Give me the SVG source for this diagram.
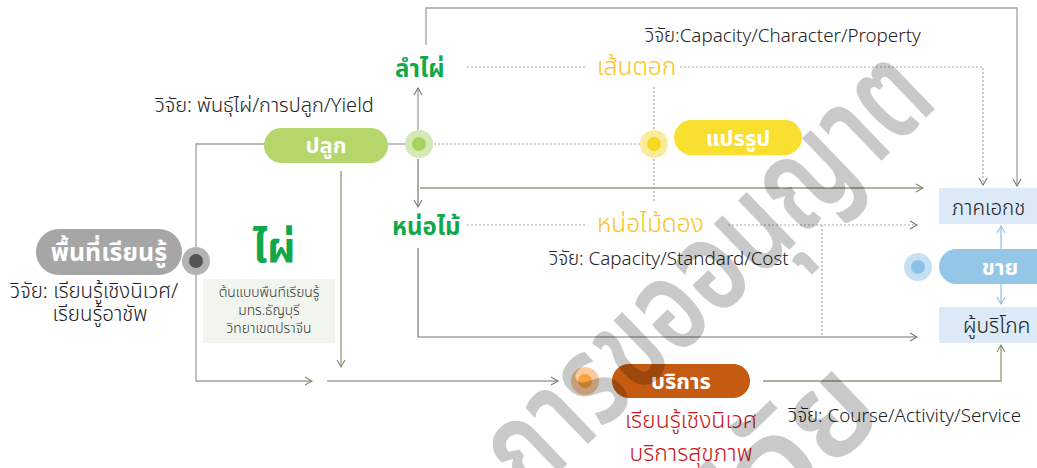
<svg xmlns="http://www.w3.org/2000/svg" width="1037" height="468" viewBox="0 0 1037 468">
<style>
text{font-family:"Noto Sans Thai","Noto Sans","Liberation Sans",sans-serif;}
.t{font-size:18.8px;fill:#222;font-weight:300;}
.w{fill:#fff;font-weight:bold;font-size:22px;text-anchor:middle;}
.g{fill:#12a84a;font-weight:bold;font-size:24px;}
.y{fill:#f9c21a;font-size:24.5px;font-weight:300;}
.r{fill:#c9161d;font-size:23px;text-anchor:middle;font-weight:300;}
.bx{fill:#333;font-size:13.8px;text-anchor:middle;font-weight:300;}
.ln{fill:none;stroke:#a0a0a0;stroke-width:1.3;}
.lg{fill:none;stroke:#8c9c7c;stroke-width:1.3;}
.ld{fill:none;stroke:#777;stroke-width:1.2;}
.dt{fill:none;stroke:#aaa;stroke-width:1.2;stroke-dasharray:2 2;}
.lb{fill:none;stroke:#8fbde3;stroke-width:1.2;}
.wm{font-size:130px;font-weight:600;fill:#000;fill-opacity:0.21;}
</style>
<defs>
<marker id="a" markerWidth="10" markerHeight="10" refX="8" refY="5" orient="auto" markerUnits="userSpaceOnUse"><path d="M1,1 L8,5 L1,9" fill="none" stroke="#777" stroke-width="1.1"/></marker>
<marker id="ag" markerWidth="10" markerHeight="10" refX="8" refY="5" orient="auto" markerUnits="userSpaceOnUse"><path d="M1,1 L8,5 L1,9" fill="none" stroke="#7d8f6c" stroke-width="1.1"/></marker>
<marker id="ab" markerWidth="10" markerHeight="10" refX="8" refY="5" orient="auto" markerUnits="userSpaceOnUse"><path d="M1,1 L8,5 L1,9" fill="none" stroke="#8fbde3" stroke-width="1.1"/></marker>
</defs>

<g id="connectors">
<path class="ln" d="M426,45 V8 H1017 V186" marker-end="url(#a)"/>
<path class="ln" d="M265,144 H196 V381 H312" marker-end="url(#ag)"/>
<path class="ln" d="M388,144 H405"/>
<path class="ln" d="M418,130 V88" marker-end="url(#a)"/>
<path class="ld" d="M418,159 V207" marker-end="url(#a)"/>
<path class="dt" d="M434,144 H640"/>
<path class="dt" d="M654,87 V203"/>
<path class="dt" d="M467,67 H587"/>
<path class="dt" d="M680,67 H983 V185" marker-end="url(#a)"/>
<path class="lg" d="M420,188 H923" marker-end="url(#ag)"/>
<path class="dt" d="M467,225 H587"/>
<path class="dt" d="M728,225 H917" marker-end="url(#a)"/>
<path class="dt" d="M822,225 V337"/>
<path class="ld" d="M418,248 V337 H917" marker-end="url(#a)"/>
<path class="lg" d="M341,171 V367" marker-end="url(#ag)"/>
<path class="ld" d="M327,381 H558" marker-end="url(#a)"/>
<path class="lg" d="M763,381 H1001 V345" marker-end="url(#ag)"/>
<path class="lb" d="M1001,249 V226" marker-end="url(#ab)"/>
<path class="lb" d="M1001,284 V304" marker-end="url(#ab)"/>
</g>

<g id="node-learning">
<rect x="36" y="229" width="146" height="46" rx="23" fill="#a6a6a6"/>
<text class="w" x="109" y="261" style="font-size:25px">พื้นที่เรียนรู้</text>
<circle cx="196" cy="261" r="14" fill="#b3b3b3"/>
<circle cx="196" cy="261" r="7" fill="#555"/>
<text class="t" x="10" y="298" style="font-size:20.5px">วิจัย: เรียนรู้เชิงนิเวศ/</text>
<text class="t" x="100" y="321" style="font-size:20.5px;text-anchor:middle">เรียนรู้อาชัพ</text>
</g>

<g id="node-bamboo">
<text x="274" y="262" style="fill:#12a84a;font-weight:bold;font-size:42px;text-anchor:middle">ไผ่</text>
<rect x="203" y="279" width="132" height="64" fill="#f1f5ee"/>
<text class="bx" x="269" y="297">ต้นแบบพืนทีเรียนรู้</text>
<text class="bx" x="269" y="315">มทร.ธัญบุรี</text>
<text class="bx" x="269" y="333">วิทยาเขตปราจีน</text>
</g>

<g id="node-plant">
<text class="t" x="155" y="112" style="font-size:20px">วิจัย: พันธุ์ไผ่/การปลูก/Yield</text>
<rect x="264" y="128" width="124" height="35" rx="17.5" fill="#b4d66b"/>
<text class="w" x="326" y="153">ปลูก</text>
<circle cx="419" cy="144" r="14" fill="#d5e9b4"/>
<circle cx="419" cy="144" r="7" fill="#a8d25e"/>
</g>

<g id="node-culm">
<text class="g" x="395" y="77">ลำไผ่</text>
<text class="t" x="645" y="42">วิจัย:Capacity/Character/Property</text>
</g>

<g id="node-strip">
<text class="y" x="597" y="75">เส้นตอก</text>
</g>

<g id="node-process">
<circle cx="654" cy="144" r="14" fill="#fbec9c"/>
<circle cx="654" cy="144" r="7" fill="#f6da22"/>
<rect x="674" y="120" width="128" height="35" rx="17.5" fill="#f8df30"/>
<text class="w" x="738" y="146">แปรรูป</text>
</g>

<g id="node-shoot">
<text class="g" x="392" y="235">หน่อไม้</text>
<text class="y" x="597" y="232">หน่อไม้ดอง</text>
<text class="t" x="549" y="265">วิจัย: Capacity/Standard/Cost</text>
</g>

<g id="node-service">
<circle cx="585" cy="381" r="14" fill="#fcc99b"/>
<circle cx="585" cy="381" r="7" fill="#f8a23f"/>
<rect x="612" y="364" width="138" height="34" rx="17" fill="#c55a11"/>
<text class="w" x="681" y="389">บริการ</text>
<text class="r" x="691" y="428">เรียนรู้เชิงนิเวศ</text>
<text class="r" x="691" y="461">บริการสุขภาพ</text>
<text class="t" x="788" y="422">วิจัย: Course/Activity/Service</text>
</g>

<g id="node-private">
<rect x="939" y="188" width="110" height="36" fill="#dce9f6"/>
<text class="t" x="952" y="215" style="font-size:20.5px">ภาคเอกช</text>
</g>

<g id="node-sell">
<circle cx="918" cy="267" r="14" fill="#c6e0f3"/>
<circle cx="918" cy="267" r="7" fill="#8fc1e6"/>
<rect x="939" y="249" width="120" height="35" rx="17.5" fill="#94c6e8"/>
<text class="w" x="1000" y="275">ขาย</text>
</g>

<g id="node-consumer">
<rect x="939" y="307" width="110" height="36" fill="#dce9f6"/>
<text class="t" x="963" y="333" style="font-size:21px">ผู้บริโภค</text>
</g>

<g id="watermark">
<text class="wm" transform="translate(530,500) rotate(-44)" textLength="570" lengthAdjust="spacingAndGlyphs">การขออนุญาต</text>
<text class="wm" transform="translate(732,566) rotate(-44)">วิจัย</text>
</g>
</svg>
